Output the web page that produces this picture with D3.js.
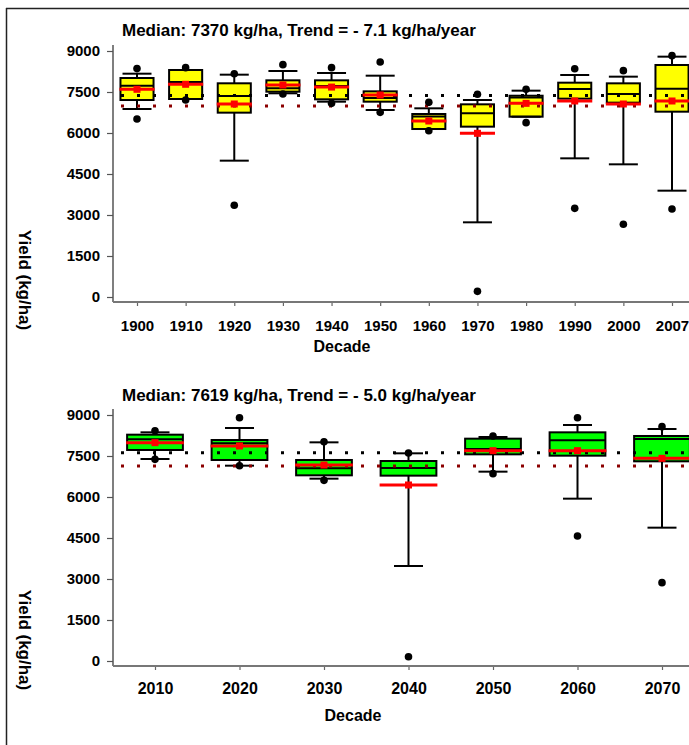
<!DOCTYPE html>
<html>
<head>
<meta charset="utf-8">
<script src="https://cdn.jsdelivr.net/npm/d3@7"></script>
<style>
  body { margin: 0; background: #fff; }
  svg { display: block; font-family: "Liberation Sans", Arial, sans-serif; font-weight: bold; }
</style>
</head>
<body>
<div id="graph"></div>
<script>
// historical decades (top panel)
const decadesPast = ["1900", "1910", "1920", "1930", "1940", "1950", "1960", "1970", "1980", "1990", "2000", "2007"]
const q1Past = [7207, 7244, 6744, 7512, 7232, 7146, 6146, 6232, 6597, 7256, 7110, 6780]
const medianPast = [7731, 7866, 7354, 7635, 7720, 7280, 6600, 6720, 7300, 7610, 7427, 7622]
const q3Past = [8012, 8305, 7818, 7927, 7927, 7524, 6695, 7049, 7364, 7841, 7817, 8488]
const meanPast = [7599, 7782, 7061, 7756, 7680, 7390, 6439, 5988, 7085, 7171, 7061, 7171]
const whiskerHighPast = [8170, 8305, 8134, 8268, 8195, 8097, 6903, 7207, 7549, 8122, 8061, 8793]
const whiskerLowPast = [6878, 7244, 4988, 7452, 7146, 6841, 6146, 2732, 6597, 5073, 4854, 3890]
const outHighPast = [8357, 8390, 8170, 8500, 8390, 8598, 7122, 7415, 7598, 8353, 8281, 8829]
const outLowPast = [6513, 7207, 3354, 7427, 7085, 6756, 6085, 207, 6378, 3244, 2659, 3220]
const refMedianPast = 7370
const refRedPast = 6990

// projected decades (bottom panel)
const decadesFuture = ["2010", "2020", "2030", "2040", "2050", "2060", "2070"]
const q1Future = [7720, 7354, 6793, 6781, 7561, 7512, 7305]
const medianFuture = [8110, 7963, 7049, 7061, 7756, 8073, 8122]
const q3Future = [8280, 8085, 7354, 7317, 8134, 8366, 8232]
const meanFuture = [7988, 7866, 7171, 6439, 7695, 7695, 7415]
const whiskerHighFuture = [8366, 8524, 8000, 7598, 8195, 8634, 8488]
const whiskerLowFuture = [7390, 7146, 6671, 3476, 6927, 5939, 4878]
const outHighFuture = [8426, 8902, 8024, 7610, 8232, 8902, 8573]
const outLowFuture = [7378, 7146, 6610, 158, 6854, 4573, 2866]
const refMedianFuture = 7619
const refRedFuture = 7130

const yTicks = [0, 1500, 3000, 4500, 6000, 7500, 9000]

const WIDTH = 689
const HEIGHT = 745

const svg = d3
  .select("#graph")
  .append("svg")
    .attr("width", WIDTH)
    .attr("height", HEIGHT)

// outer frame (top and left edges only are visible)
svg.append("line")
  .attr("x1", 6).attr("x2", WIDTH).attr("y1", 8.5).attr("y2", 8.5)
  .attr("stroke", "#222").attr("stroke-width", 1.5)
svg.append("line")
  .attr("x1", 6.5).attr("x2", 6.5).attr("y1", 8).attr("y2", HEIGHT)
  .attr("stroke", "#222").attr("stroke-width", 1.5)

const drawPanel = (p) => {
  const rows = p.decades.map((d, i) => ({
    decade: d,
    q1: p.q1[i],
    median: p.median[i],
    q3: p.q3[i],
    mean: p.mean[i],
    wHigh: p.wHigh[i],
    wLow: p.wLow[i],
    outHigh: p.outHigh[i],
    outLow: p.outLow[i]
  }))

  const x = d3.scalePoint().domain(p.decades).range(p.xRange)
  const y = d3.scaleLinear().domain([0, 9000]).range(p.yRange)
  const boxW = x.step() * p.boxFrac
  const capW = 29

  const g = svg.append("g")

  // axes
  const yAxis = g.append("g")
    .attr("transform", `translate(${p.axisX},0)`)
    .call(
      d3.axisLeft(y)
        .tickValues(yTicks)
        .tickFormat(d3.format("d"))
        .tickSize(6)
        .tickPadding(7)
        .tickSizeOuter(0)
    )
  yAxis.select(".domain").remove()
  yAxis.selectAll("line").attr("stroke", "#555").attr("stroke-width", 1.2)
  yAxis.selectAll("text")
    .attr("font-size", 15).attr("font-weight", "bold").attr("fill", "#000")
    .attr("font-family", "Liberation Sans, Arial, sans-serif")

  g.append("line")
    .attr("x1", p.axisX).attr("x2", p.axisX)
    .attr("y1", y(9000) - 6).attr("y2", p.axisY)
    .attr("stroke", "#555").attr("stroke-width", 1.5)

  const xAxis = g.append("g")
    .attr("transform", `translate(0,${p.axisY})`)
    .call(d3.axisBottom(x).tickSize(4).tickPadding(p.xPad).tickSizeOuter(0))
  xAxis.select(".domain").remove()
  xAxis.selectAll("line").attr("stroke", "#666").attr("stroke-width", 1.2)
  xAxis.selectAll("text")
    .attr("font-size", p.xFont).attr("font-weight", "bold").attr("fill", "#000")
    .attr("font-family", "Liberation Sans, Arial, sans-serif")

  g.append("line")
    .attr("x1", p.axisX).attr("x2", WIDTH)
    .attr("y1", p.axisY).attr("y2", p.axisY)
    .attr("stroke", "#777").attr("stroke-width", 2)

  // boxes
  g.append("g")
    .selectAll("rect")
    .data(rows)
    .join("rect")
      .attr("x", (d) => x(d.decade) - boxW / 2)
      .attr("y", (d) => y(d.q3))
      .attr("width", boxW)
      .attr("height", (d) => y(d.q1) - y(d.q3))
      .attr("fill", p.fill)
      .attr("stroke", "#000")
      .attr("stroke-width", 2)

  g.append("g")
    .selectAll("line")
    .data(rows)
    .join("line")
      .attr("x1", (d) => x(d.decade) - boxW / 2)
      .attr("x2", (d) => x(d.decade) + boxW / 2)
      .attr("y1", (d) => y(d.median))
      .attr("y2", (d) => y(d.median))
      .attr("stroke", "#000")
      .attr("stroke-width", 2)

  // whiskers
  const whiskers = g.append("g").attr("stroke", "#000").attr("stroke-width", 2)
  whiskers.selectAll(".hi")
    .data(rows)
    .join("line")
      .attr("class", "hi")
      .attr("x1", (d) => x(d.decade)).attr("x2", (d) => x(d.decade))
      .attr("y1", (d) => y(d.q3)).attr("y2", (d) => y(d.wHigh))
  whiskers.selectAll(".lo")
    .data(rows)
    .join("line")
      .attr("class", "lo")
      .attr("x1", (d) => x(d.decade)).attr("x2", (d) => x(d.decade))
      .attr("y1", (d) => y(d.q1)).attr("y2", (d) => y(d.wLow))
  whiskers.selectAll(".capHi")
    .data(rows)
    .join("line")
      .attr("class", "capHi")
      .attr("x1", (d) => x(d.decade) - capW / 2).attr("x2", (d) => x(d.decade) + capW / 2)
      .attr("y1", (d) => y(d.wHigh)).attr("y2", (d) => y(d.wHigh))
  whiskers.selectAll(".capLo")
    .data(rows)
    .join("line")
      .attr("class", "capLo")
      .attr("x1", (d) => x(d.decade) - capW / 2).attr("x2", (d) => x(d.decade) + capW / 2)
      .attr("y1", (d) => y(d.wLow)).attr("y2", (d) => y(d.wLow))

  // reference lines
  g.append("line")
    .attr("x1", 121).attr("x2", WIDTH)
    .attr("y1", y(p.refMedian)).attr("y2", y(p.refMedian))
    .attr("stroke", "#000").attr("stroke-width", 3)
    .attr("stroke-dasharray", "3,13")
  g.append("line")
    .attr("x1", 121).attr("x2", WIDTH)
    .attr("y1", y(p.refRed)).attr("y2", y(p.refRed))
    .attr("stroke", "#8b0000").attr("stroke-width", 3)
    .attr("stroke-dasharray", "3,13")

  // means
  g.append("g")
    .selectAll("line")
    .data(rows)
    .join("line")
      .attr("x1", (d) => x(d.decade) - boxW / 2 - 1)
      .attr("x2", (d) => x(d.decade) + boxW / 2 + 1)
      .attr("y1", (d) => y(d.mean))
      .attr("y2", (d) => y(d.mean))
      .attr("stroke", "#ff0000")
      .attr("stroke-width", 3)
  g.append("g")
    .selectAll("rect")
    .data(rows)
    .join("rect")
      .attr("x", (d) => x(d.decade) - 3.5)
      .attr("y", (d) => y(d.mean) - 3.5)
      .attr("width", 7)
      .attr("height", 7)
      .attr("fill", "#ff0000")

  // outlying points
  const pts = rows.flatMap((d) => [
    { decade: d.decade, v: d.outHigh },
    { decade: d.decade, v: d.outLow }
  ])
  g.append("g")
    .selectAll("circle")
    .data(pts)
    .join("circle")
      .attr("cx", (d) => x(d.decade))
      .attr("cy", (d) => y(d.v))
      .attr("r", 3.8)
      .attr("fill", "#000")

  // labels
  g.append("text")
    .attr("x", 122)
    .attr("y", p.titleY)
    .attr("font-size", 17)
    .text(p.title)

  g.append("text")
    .attr("transform", `translate(${p.yLabelX},${p.yLabelY}) rotate(90)`)
    .attr("text-anchor", "middle")
    .attr("font-size", 17)
    .text("Yield (kg/ha)")

  g.append("text")
    .attr("x", p.xLabelX)
    .attr("y", p.xLabelY)
    .attr("text-anchor", "middle")
    .attr("font-size", 16)
    .text("Decade")
}

drawPanel({
  decades: decadesPast,
  q1: q1Past, median: medianPast, q3: q3Past, mean: meanPast,
  wHigh: whiskerHighPast, wLow: whiskerLowPast,
  outHigh: outHighPast, outLow: outLowPast,
  refMedian: refMedianPast, refRed: refRedPast,
  fill: "#ffff00",
  xRange: [137, 672], yRange: [297, 51],
  boxFrac: 0.68,
  axisX: 113, axisY: 302,
  xFont: 15, xPad: 14,
  title: "Median: 7370 kg/ha, Trend = - 7.1 kg/ha/year",
  titleY: 36,
  yLabelX: 19, yLabelY: 280,
  xLabelX: 342, xLabelY: 352
})

drawPanel({
  decades: decadesFuture,
  q1: q1Future, median: medianFuture, q3: q3Future, mean: meanFuture,
  wHigh: whiskerHighFuture, wLow: whiskerLowFuture,
  outHigh: outHighFuture, outLow: outLowFuture,
  refMedian: refMedianFuture, refRed: refRedFuture,
  fill: "#00ff00",
  xRange: [155, 662], yRange: [661, 415],
  boxFrac: 0.66,
  axisX: 113, axisY: 666,
  xFont: 16, xPad: 13,
  title: "Median: 7619 kg/ha, Trend = - 5.0 kg/ha/year",
  titleY: 401,
  yLabelX: 19, yLabelY: 640,
  xLabelX: 353, xLabelY: 721
})
</script>
</body>
</html>
